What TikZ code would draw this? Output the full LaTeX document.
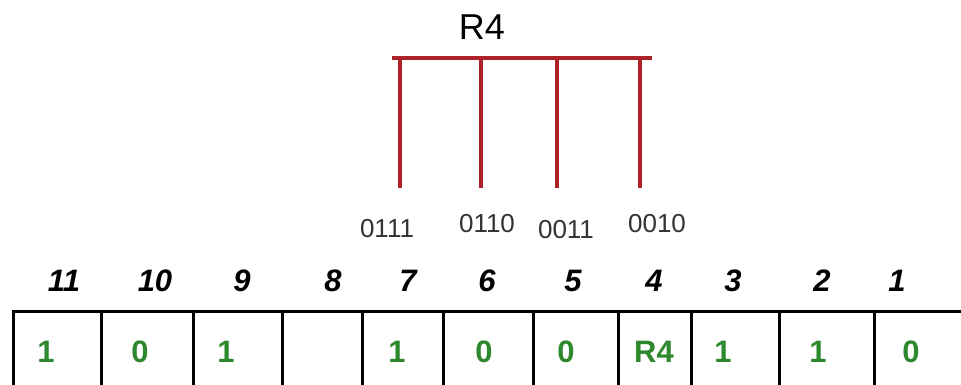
\documentclass[tikz,border=0pt]{standalone}
\usepackage{fontspec}
\setmainfont{Liberation Sans}
\usetikzlibrary{positioning}
\definecolor{wirered}{RGB}{172,34,40}
\definecolor{bitgreen}{RGB}{46,136,46}
\newcommand{\fsz}[1]{\fontsize{#1}{#1}\selectfont}

\begin{document}
\begin{tikzpicture}[
  x=1pt, y=-1pt,
  cell/.style={rectangle, draw, line width=3pt, anchor=north west,
    minimum height=110pt, inner sep=0pt},
  idx/.style={inner sep=0pt, font=\fsz{31}\bfseries\itshape},
  bit/.style={inner sep=0pt, text=bitgreen, font=\fsz{31}\bfseries},
  code/.style={inner sep=0pt, text=black!80, font=\fsz{26}},
  reg/.style={inner sep=0pt, font=\fsz{36}},
  wire/.style={draw=wirered, line width=3.5pt}
]
\clip (0,0) rectangle (961,385);

% register label and its wires
\node[reg] (r4) at (482,27) {R4};
\coordinate (busl) at (392,58);
\coordinate (busr) at (652,58);
\coordinate (t7) at (400,58);
\coordinate (t6) at (481,58);
\coordinate (t3) at (557,58);
\coordinate (t2) at (640,58);
\coordinate (e7) at (400,188);
\coordinate (e6) at (481,188);
\coordinate (e3) at (557,188);
\coordinate (e2) at (640,188);

\node[code] (k7) at (387,229) {0111};
\node[code] (k6) at (487,224) {0110};
\node[code] (k3) at (566,230) {0011};
\node[code] (k2) at (657,224) {0010};

\draw[wire] (busl) -- (busr);
\draw[wire] (t7) -- (e7);
\draw[wire] (t6) -- (e6);
\draw[wire] (t3) -- (e3);
\draw[wire] (t2) -- (e2);

% bit positions
\node[idx] (i11) at (64,281) {11};
\node[idx] (i10) at (155,281) {10};
\node[idx] (i9) at (242,281) {9};
\node[idx] (i8) at (333,281) {8};
\node[idx] (i7) at (408,281) {7};
\node[idx] (i6) at (487,281) {6};
\node[idx] (i5) at (573,281) {5};
\node[idx] (i4) at (654,281) {4};
\node[idx] (i3) at (733,281) {3};
\node[idx] (i2) at (822,281) {2};
\node[idx] (i1) at (897,281) {1};

% cells
\node[cell, minimum width=88pt] (c11) at (12,310) {};
\node[cell, minimum width=92pt] (c10) at (100,310) {};
\node[cell, minimum width=89pt] (c9) at (192,310) {};
\node[cell, minimum width=80pt] (c8) at (281,310) {};
\node[cell, minimum width=81pt] (c7) at (361,310) {};
\node[cell, minimum width=90pt] (c6) at (442,310) {};
\node[cell, minimum width=85pt] (c5) at (532,310) {};
\node[cell, minimum width=73pt] (c4) at (617,310) {};
\node[cell, minimum width=88pt] (c3) at (690,310) {};
\node[cell, minimum width=95pt] (c2) at (778,310) {};
\node[cell, minimum width=120pt] (c1) at (873,310) {};

\node[bit] (v11) at (46,352) {1};
\node[bit] (v10) at (140,352) {0};
\node[bit] (v9) at (226,352) {1};
\node[bit] (v7) at (397,352) {1};
\node[bit] (v6) at (484,352) {0};
\node[bit] (v5) at (566,352) {0};
\node[bit] (v4) at (654,352) {R4};
\node[bit] (v3) at (723,352) {1};
\node[bit] (v2) at (818,352) {1};
\node[bit] (v1) at (911,352) {0};
\end{tikzpicture}
\end{document}
